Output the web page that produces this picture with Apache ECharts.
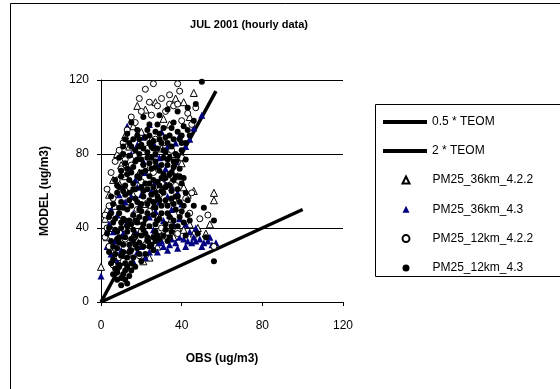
<!DOCTYPE html>
<html><head><meta charset="utf-8">
<script src="https://cdn.jsdelivr.net/npm/echarts@6/dist/echarts.min.js"></script>
<style>html,body{margin:0;padding:0;background:#fff}#c{width:560px;height:389px}</style>
</head><body><div id="c"></div>
<script>
var titleText = 'JUL 2001 (hourly data)';
var xTitle = 'OBS (ug/m3)';
var yTitle = 'MODEL (ug/m3)';
var halfTeom = [[0,0],[100,50]];
var doubleTeom = [[0,0],[57,114]];
var s36_422 = [[46,113],[18,106],[37,110],[22,104],[31,99],[41,108],[16,95],[27,108],[34,96],[12,90],[44,100],[20,92],
[8,80],[10,74],[6,66],[4,58],[3,50],[7,52],[2,45],[5,40],[14,84],[9,64],
[25,88],[30,83],[36,80],[40,75],[38,68],[24,73],[19,70],[29,62],[33,55],[41,62],[43,58],[46,60],[12,68],[16,58],[22,53],[28,46],[35,45],[18,44],[12,40],[26,36],
[56,59],[56,55],[52,37],[48,40],[44,42],[38,40],[33,38],[54,42],
[0,19],[21,22],[24,24],[8,25],[14,28],[5,30],[3,35],[18,33],[10,33],[28,30],[30,36],[16,36],[41,39],[46,37],[36,35]];
var s36_43 = [[50,101],[46,94],[44,88],[39,90],[42,84],[37,76],[35,71],
[21,89],[15,80],[27,80],[18,85],[30,92],[24,96],[33,84],
[17,66],[12,54],[19,52],[35,50],[38,59],[35,62],[11,62],[22,70],[28,74],[14,73],[31,66],[25,60],[9,58],[20,58],[29,54],[33,57],[16,48],[24,46],[39,45],[8,47],[13,43],[27,49],[36,42],[21,40],[31,44],[4,42],[6,38],[11,37],[17,38],[26,39],
[25,31],[28,27],[30,33],[33,28],[35,34],[37,32],[39,35],[41,34],[43,33],[45,32],[47,33],[49,34],[51,32],[53,33],[55,31],[57,32],[42,30],[46,35],[38,29],[34,31],[31,30],[29,32],[54,35],[50,30],
[0,14],[5,26],[8,22],[10,28],[12,25],[15,31],[18,27],[20,30],[22,24],[24,27],[16,22],[7,33],[3,30],[23,35],
[13,95],[26,86],[37,86],[29,78],[21,76],[10,69],[32,72],[18,62],[40,53],[27,65],[15,57],[34,47],[5,50],[42,42],[44,38],[47,40]];
var s12_422 = [[22,115],[26,118],[38,118],[39,114],[34,112],[24,108],[34,107],[36,106],[38,107],[20,103],[28,106],[30,110],[15,100],[13,93],[17,97],[47,105],[43,102],[25,101],[32,103],[11,86],[9,82],[40,98],[45,96],[19,110],
[7,76],[5,70],[10,72],[8,66],[3,61],[6,56],[4,52],[2,47],[12,77],[15,74],[45,59],[42,56],[39,48],[36,55],[44,48],[27,88],[31,86],[35,82],[40,78],[17,79],[23,83],[20,65],[26,70],[30,64],[12,60],[18,50],[24,49],[29,58],[33,66],[37,63],
[3,40],[2,35],[4,30],[7,29],[9,24],[6,20],[11,22],[14,19],[13,25],[16,30],[19,25],[22,31],[26,33],[56,30],[49,45],[53,47],[30,40],[38,37],[12,34],[20,38]];
var s12_43 = [[50,119],[47,107],[43,105],[38,103],[33,104],[29,101],[21,100],[36,97],
[15,97],[18,93],[24,96],[27,92],[31,94],[34,90],[38,92],[41,95],[44,90],[39,88],[22,89],[13,91],
[11,84],[14,86],[17,82],[20,85],[23,81],[26,87],[28,83],[30,86],[32,81],[35,84],[37,80],[40,82],[42,86],[19,88],[25,84],
[9,78],[12,75],[14,79],[16,73],[18,77],[21,74],[23,78],[25,72],[27,76],[29,71],[31,78],[33,74],[35,70],[37,76],[39,72],[20,70],[15,70],
[7,66],[10,68],[12,63],[14,66],[17,61],[19,67],[22,64],[24,68],[26,62],[28,65],[30,60],[32,67],[34,63],[36,66],[38,61],[40,64],[21,60],
[5,57],[8,59],[10,54],[12,58],[15,52],[17,56],[19,50],[21,57],[23,53],[25,58],[27,51],[29,55],[31,59],[33,52],[35,56],[37,50],[39,54],[41,52],[46,52],[13,50],
[4,46],[6,43],[9,48],[11,45],[13,41],[16,47],[18,43],[20,49],[22,45],[24,41],[26,47],[28,44],[30,48],[32,42],[34,46],[36,44],[38,41],[44,44],[51,51],[56,44],
[3,37],[5,33],[7,39],[9,35],[11,31],[13,38],[15,34],[17,36],[19,32],[21,39],[23,35],[25,31],[27,38],[29,34],[31,36],[33,33],[35,38],[42,36],[48,37],[52,35],
[4,27],[6,23],[8,29],[10,25],[12,21],[14,27],[16,24],[18,29],[20,22],[22,26],[24,30],[26,28],[9,20],[56,22],
[6,15],[9,19],[11,15],[13,10],[12,17],[8,12],[10,9],[14,14],
[16,88],[24,90],[29,88],[33,86],[11,80],[19,80],[27,80],[34,78],[13,72],[22,71],[30,74],[36,73],[9,62],[16,64],[23,61],[29,63],[35,60],[11,51],[18,54],[24,55],[30,52],[36,53],[7,45],[14,44],[21,42],[27,42],[33,48],[39,46],[8,34],[14,31],[20,36],[26,35],[32,39],[7,26],[13,24],[19,26],[17,19],[15,21],[23,33],[17,44],[26,66],[20,77],[31,69],[14,59],[39,68],[42,59],[24,86],[10,40],[12,35],[28,57],
[12,88],[15,84],[21,83],[26,83],[29,91],[32,89],[36,88],[40,86],[43,93],[17,76],[24,75],[27,73],[33,77],[38,79],[10,71],[13,69],[18,68],[24,64],[30,67],[34,69],[37,68],[41,67],[8,63],[11,60],[16,61],[20,62],[27,59],[32,62],[38,57],[43,55],[6,53],[9,51],[14,55],[20,53],[26,54],[32,55],[37,57],[40,49],[43,47],[5,48],[10,43],[15,42],[19,46],[23,48],[29,45],[35,41],[41,43],[4,40],[8,38],[12,44],[16,39],[22,37],[28,36],[34,35],[6,30],[9,32],[15,28],[21,30],[27,33],[5,21],[7,18],[11,27],[13,19],[17,31],[10,13],[12,12],[15,17],[8,16],[19,84],[28,96],[35,94],[23,93],[31,82],[36,76],[25,78],[18,90],[42,77],[40,90],[46,98]];
var lineNames = ['0.5 * TEOM','2 * TEOM'];
var pointNames = ['PM25_36km_4.2.2','PM25_36km_4.3','PM25_12km_4.2.2','PM25_12km_4.3'];
var xTicks = [0,40,80,120];
var yTicks = [0,40,80,120];

var FONT = 'Liberation Sans, Arial, sans-serif';
var chart = echarts.init(document.getElementById('c'), null, {renderer:'canvas'});
chart.setOption({
  animation:false,
  backgroundColor:'#fff',
  title:{text:titleText,left:244,top:14,textAlign:'center',textStyle:{fontFamily:FONT,fontSize:11,fontWeight:'bold',color:'#000'}},
  grid:{left:101,top:80,width:242,height:222},
  xAxis:{type:'value',min:xTicks[0],max:xTicks[xTicks.length-1],interval:40,
    name:xTitle,nameLocation:'middle',nameGap:51,nameTextStyle:{fontFamily:FONT,fontSize:12,fontWeight:'bold',color:'#000'},
    axisLine:{lineStyle:{color:'#000',width:1}},axisTick:{length:4,lineStyle:{color:'#000'}},
    axisLabel:{fontFamily:FONT,fontSize:12,color:'#000',margin:18},splitLine:{show:false}},
  yAxis:{type:'value',min:yTicks[0],max:yTicks[yTicks.length-1],interval:40,
    name:yTitle,nameLocation:'middle',nameGap:50,nameRotate:90,nameTextStyle:{fontFamily:FONT,fontSize:12,fontWeight:'bold',color:'#000'},
    axisLine:{show:true,lineStyle:{color:'#000',width:1}},axisTick:{show:true,length:4,lineStyle:{color:'#000'}},
    axisLabel:{fontFamily:FONT,fontSize:12,color:'#000',margin:12},splitLine:{lineStyle:{color:'#000',width:1}}},
  legend:[
    {orient:'vertical',left:378,top:110,itemWidth:44,itemHeight:4,itemGap:15,icon:'rect',
     textStyle:{fontFamily:FONT,fontSize:12,color:'#000',lineHeight:14},data:lineNames},
    {orient:'vertical',left:396.5,top:168,itemWidth:7,itemHeight:7,itemGap:15.3,
     textStyle:{fontFamily:FONT,fontSize:12,color:'#000',lineHeight:14,padding:[0,0,0,18]},data:pointNames}
  ],
  graphic:[
    {type:'rect',shape:{x:10.5,y:3.5,width:600,height:420},style:{fill:'none',stroke:'#000',lineWidth:1},silent:true,z:-1},
    {type:'rect',shape:{x:375.5,y:104.5,width:250,height:172},style:{fill:'none',stroke:'#000',lineWidth:1},silent:true,z:-1}
  ],
  series:[
    {name:lineNames[0],type:'line',data:halfTeom,symbol:'none',lineStyle:{color:'#000',width:3.5},itemStyle:{color:'#000'},z:1},
    {name:lineNames[1],type:'line',data:doubleTeom,symbol:'none',lineStyle:{color:'#000',width:3.5},itemStyle:{color:'#000'},z:1},
    {name:pointNames[0],type:'scatter',data:s36_422,symbol:'triangle',symbolSize:7,itemStyle:{color:'#fff',borderColor:'#000',borderWidth:1,opacity:1},z:2},
    {name:pointNames[1],type:'scatter',data:s36_43,symbol:'triangle',symbolSize:7,itemStyle:{color:'#000080',opacity:1},z:3},
    {name:pointNames[2],type:'scatter',data:s12_422,symbol:'circle',symbolSize:6,itemStyle:{color:'#fff',borderColor:'#000',borderWidth:1,opacity:1},z:4},
    {name:pointNames[3],type:'scatter',data:s12_43,symbol:'circle',symbolSize:6,itemStyle:{color:'#000',opacity:1},z:5}
  ]
});
</script></body></html>
